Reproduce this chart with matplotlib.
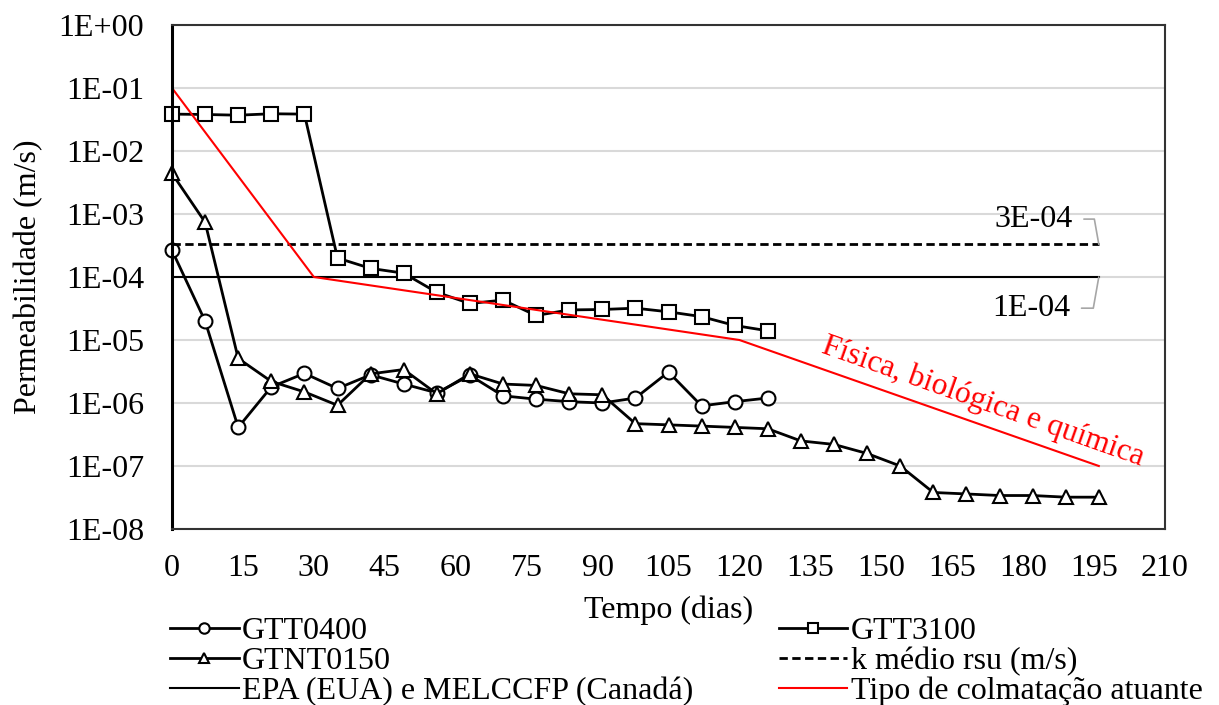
import matplotlib
matplotlib.use("Agg")
import matplotlib.pyplot as plt
import numpy as np

plt.rcParams['font.family'] = ['Liberation Serif', 'DejaVu Serif']

# dias de ensaio
dias_a = [0, 7, 14, 21, 28, 35, 42, 49, 56, 63, 70, 77, 84, 91, 98, 105, 112, 119, 126]
dias_c = [0, 7, 14, 21, 28, 35, 42, 49, 56, 63, 70, 77, 84, 91, 98, 105, 112, 119, 126,
          133, 140, 147, 154, 161, 168, 175, 182, 189, 196]

gtt0400 = [2.65e-4, 2.0e-5, 4.1e-7, 1.8e-6, 2.95e-6, 1.7e-6, 2.8e-6, 2.0e-6, 1.45e-6, 2.75e-6,
           1.3e-6, 1.15e-6, 1.05e-6, 1.0e-6, 1.2e-6, 3.1e-6, 9.0e-7, 1.05e-6, 1.2e-6]
gtt3100 = [3.85e-2, 3.8e-2, 3.7e-2, 3.9e-2, 3.85e-2, 2.0e-4, 1.37e-4, 1.15e-4, 5.7e-5, 3.8e-5,
           4.3e-5, 2.45e-5, 3.0e-5, 3.05e-5, 3.2e-5, 2.8e-5, 2.35e-5, 1.7e-5, 1.4e-5]
gtnt0150 = [4.4e-3, 7.4e-4, 5.1e-6, 2.2e-6, 1.5e-6, 9.2e-7, 2.9e-6, 3.4e-6, 1.4e-6, 2.9e-6,
            2.0e-6, 1.9e-6, 1.4e-6, 1.35e-6, 4.7e-7, 4.5e-7, 4.3e-7, 4.1e-7, 3.9e-7,
            2.5e-7, 2.2e-7, 1.58e-7, 1.0e-7, 3.8e-8, 3.6e-8, 3.4e-8, 3.4e-8, 3.2e-8, 3.2e-8]

k_rsu = 3.3e-4
k_norma = 1e-4
lim_x = [0, 196]

colm_x = [0, 30, 120, 196]
colm_y = [1e-1, 1e-4, 1e-5, 1e-7]

xticks = list(range(0, 211, 15))
yticks = [1e-8, 1e-7, 1e-6, 1e-5, 1e-4, 1e-3, 1e-2, 1e-1, 1e0]
ylabels = ['1E-08', '1E-07', '1E-06', '1E-05', '1E-04', '1E-03', '1E-02', '1E-01', '1E+00']

fs = 23
fig = plt.figure(figsize=(12.19, 7.05), dpi=100)
ax = fig.add_axes([172/1219, 1-529/705, 993/1219, 504/705])

mk = dict(markerfacecolor='white', markeredgecolor='black', markersize=10, markeredgewidth=1.5,
          clip_on=False)
ax.plot(dias_a, gtt0400, color='black', lw=2, marker='o', label='GTT0400', **mk)
ax.plot(dias_c, gtnt0150, color='black', lw=2, marker='^', label='GTNT0150', **mk)
ax.plot(lim_x, [k_norma, k_norma], color='black', lw=1.5, label='EPA (EUA) e MELCCFP (Canadá)')
ax.plot(dias_a, gtt3100, color='black', lw=2, marker='s', label='GTT3100', **mk)
ax.plot(lim_x, [k_rsu, k_rsu], color='black', lw=2, ls=(0, (3, 1.6)), label='k médio rsu (m/s)')
ax.plot(colm_x, colm_y, color='red', lw=1.5, label='Tipo de colmatação atuante')

ax.set_yscale('log')
ax.set_xlim(0, 210)
ax.set_ylim(1e-8, 1)
ax.set_xticks(xticks)
ax.set_yticks(yticks)
ax.set_yticklabels(ylabels)
ax.minorticks_off()
ax.tick_params(length=0, labelsize=fs)
ax.tick_params(axis='x', pad=18)
ax.tick_params(axis='y', pad=20)
ax.grid(axis='y', color='#d9d9d9', lw=1.5)
ax.set_axisbelow(True)
for s in ax.spines.values():
    s.set_color('#333333')
    s.set_linewidth(1.5)
ax.spines['left'].set_color('black')
ax.spines['left'].set_linewidth(2.2)

ax.set_xlabel('Tempo (dias)', fontsize=fs, labelpad=9)
ax.set_ylabel('Permeabilidade (m/s)', fontsize=fs, labelpad=11)

# rotulos das linhas de referencia
ax.annotate('3E-04', xy=(196, k_rsu), xytext=(190.5, 8.3e-4), fontsize=fs, ha='right', va='center',
            arrowprops=dict(arrowstyle='-', color='#a6a6a6', lw=1.2, shrinkA=6, shrinkB=0,
                            connectionstyle='angle,angleA=0,angleB=100,rad=0'))
ax.annotate('1E-04', xy=(196, k_norma), xytext=(190, 3.2e-5), fontsize=fs, ha='right', va='center',
            arrowprops=dict(arrowstyle='-', color='#a6a6a6', lw=1.2, shrinkA=6, shrinkB=0,
                            connectionstyle='angle,angleA=0,angleB=-100,rad=0'))

ax.text(171.5, 1.05e-6, 'Física, biológica e química', color='red', fontsize=fs - 0.3,
        rotation=-19.5, ha='center', va='center', rotation_mode='anchor')

fig.legend(loc='upper left', bbox_to_anchor=(170/1219, 1-617/705), ncol=2, frameon=False,
           fontsize=fs, handlelength=2.15, handletextpad=0.1, labelspacing=0.02,
           columnspacing=2.68, markerscale=0.75, borderaxespad=0, borderpad=0)

fig.savefig('out.png', dpi=100)
